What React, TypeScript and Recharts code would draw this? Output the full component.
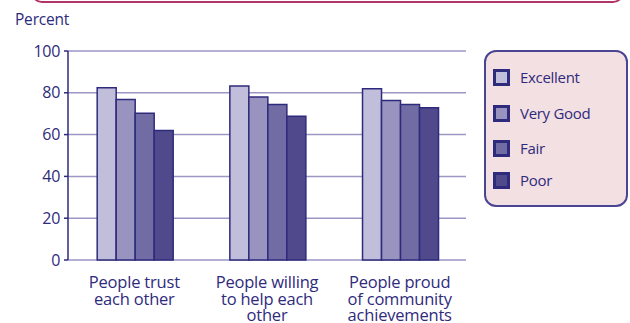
import React from "react";
import { BarChart, Bar, XAxis, YAxis, CartesianGrid } from "recharts";

const categories = [
  ["People trust", "each other"],
  ["People willing", "to help each", "other"],
  ["People proud", "of community", "achievements"],
];
const excellent = [82.4, 83.3, 81.9];
const veryGood = [76.8, 78.0, 76.3];
const fair = [70.2, 74.4, 74.4];
const poor = [62.0, 68.8, 72.9];
const yTicks = [0, 20, 40, 60, 80, 100];
const edgeTicks = [0, 1, 2, 3];

const seriesNames = ["Excellent", "Very Good", "Fair", "Poor"];
const seriesKeys = ["excellent", "veryGood", "fair", "poor"];
const seriesColors = ["#c1bedb", "#9893bf", "#726ca4", "#504a8c"];

const data = categories.map((c, i) => ({
  name: c.join("\n"),
  excellent: excellent[i],
  veryGood: veryGood[i],
  fair: fair[i],
  poor: poor[i],
}));

const TEXT = "#2f2b7c";
const AXIS = "#2f2b7c";
const GRID = "#9b96c4";
const FONT = "'Open Sans', sans-serif";

const CatTick = (props: any) => {
  const { x, y, payload } = props;
  const lines = String(payload.value).split("\n");
  return (
    <g>
      {lines.map((l: string, i: number) => (
        <text
          key={i}
          x={x}
          y={y + 20 + i * 16.5}
          textAnchor="middle"
          fill={TEXT}
          fontSize={16.5}
          fontFamily={FONT}
          letterSpacing={-0.2}
        >
          {l}
        </text>
      ))}
    </g>
  );
};

const LegendBox = () => {
  const gaps = [0, 36, 35, 32];
  let acc = 0;
  return (
    <div
      style={{
        position: "absolute",
        left: 484,
        top: 50,
        width: 144,
        height: 157,
        boxSizing: "border-box",
        border: `2px solid #4a4592`,
        borderRadius: 12,
        background: "#f3e0e2",
      }}
    >
      {seriesNames.map((n, i) => {
        acc += gaps[i];
        return (
          <div
            key={n}
            style={{
              position: "absolute",
              left: 7,
              top: 17 + acc,
              display: "flex",
              alignItems: "center",
              height: 17,
            }}
          >
            <div
              style={{
                width: 17,
                height: 17,
                boxSizing: "border-box",
                border: `3px solid ${AXIS}`,
                background: seriesColors[i],
              }}
            />
            <span
              style={{
                marginLeft: 10,
                fontFamily: FONT,
                fontSize: 15,
                color: TEXT,
                lineHeight: "17px",
                letterSpacing: -0.3,
              }}
            >
              {n}
            </span>
          </div>
        );
      })}
    </div>
  );
};

export default function App() {
  return (
    <div
      style={{
        position: "absolute",
        left: 0,
        top: 0,
        width: 630,
        height: 323,
        background: "#ffffff",
        overflow: "hidden",
      }}
    >
      <div
        style={{
          position: "absolute",
          left: 31,
          top: -20,
          width: 593,
          height: 23,
          boxSizing: "border-box",
          border: "2px solid #b23468",
          borderRadius: 11,
        }}
      />
      <div
        style={{
          position: "absolute",
          left: 15,
          top: 8,
          fontFamily: FONT,
          fontSize: 15.5,
          color: TEXT,
          letterSpacing: -0.2,
        }}
      >
        Percent
      </div>
      <BarChart
        width={630}
        height={323}
        data={data}
        margin={{ top: 51, right: 164, bottom: 0, left: 0 }}
        barCategoryGap="22%"
        barGap={0}
      >
        <CartesianGrid vertical={false} stroke={GRID} strokeWidth={1.5} />
        <XAxis
          xAxisId="edge"
          type="number"
          domain={[0, 3]}
          ticks={edgeTicks}
          height={0}
          tick={false}
          tickSize={5}
          stroke={AXIS}
          strokeWidth={1.5}
          allowDataOverflow
        />
        <XAxis
          dataKey="name"
          axisLine={false}
          tickLine={false}
          tick={<CatTick />}
          interval={0}
          height={63}
        />
        <YAxis
          domain={[0, 100]}
          ticks={yTicks}
          width={68}
          tickSize={4}
          stroke={AXIS}
          strokeWidth={1.5}
          tick={{ fill: TEXT, fontSize: 16, fontFamily: FONT, letterSpacing: -0.3 }}
          tickMargin={4}
        />
        {seriesKeys.map((k, i) => (
          <Bar
            key={k}
            dataKey={k}
            name={seriesNames[i]}
            fill={seriesColors[i]}
            stroke={AXIS}
            strokeWidth={1.5}
            isAnimationActive={false}
          />
        ))}
      </BarChart>
      <LegendBox />
    </div>
  );
}
